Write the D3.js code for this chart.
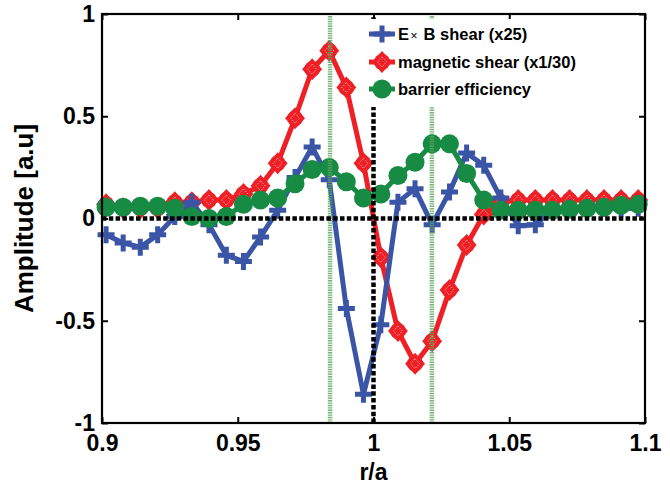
<!DOCTYPE html>
<html>
<head>
<meta charset="utf-8">
<script src="https://cdn.jsdelivr.net/npm/d3@7"></script>
<style>
  body { margin: 0; background: #fff; }
  svg { display: block; font-family: "Liberation Sans", Arial, sans-serif; }
</style>
</head>
<body>
<svg id="chart" width="670" height="487"></svg>
<script>
// Normalised radius of each sample point
const rOverA = [0.9015, 0.9078, 0.9141, 0.9205, 0.9268, 0.9331, 0.9394, 0.9458,
                0.9521, 0.9584, 0.9647, 0.9711, 0.9774, 0.9837, 0.9900, 0.9963,
                1.0027, 1.0090, 1.0153, 1.0216, 1.0280, 1.0343, 1.0406, 1.0469,
                1.0533, 1.0596, 1.0659, 1.0722, 1.0786, 1.0849, 1.0912, 1.0975];

// E x B shear, scaled by 25
const exbShear = [-0.08, -0.12, -0.14, -0.08, 0.01, 0.08, -0.03, -0.18,
                  -0.21, -0.09, 0.04, 0.20, 0.35, 0.19, -0.44, -0.86,
                  -0.52, 0.08, 0.145, -0.03, 0.13, 0.32, 0.26, 0.10,
                  -0.035, -0.03, 0.04, 0.05, 0.05, 0.05, 0.05, 0.05];

// Magnetic shear, scaled by 1/30
const magShear = [0.07, 0.05, 0.05, 0.05, 0.08, 0.08, 0.09, 0.09,
                  0.12, 0.16, 0.27, 0.49, 0.73, 0.82, 0.64, 0.27,
                  -0.19, -0.55, -0.71, -0.60, -0.35, -0.13, 0.02, 0.08,
                  0.09, 0.09, 0.09, 0.09, 0.09, 0.09, 0.09, 0.09];

// Transport barrier efficiency
const barrierEff = [0.055, 0.055, 0.06, 0.06, 0.05, 0.01, 0.0, 0.01,
                    0.07, 0.09, 0.10, 0.17, 0.24, 0.25, 0.18, 0.10,
                    0.12, 0.21, 0.275, 0.365, 0.365, 0.22, 0.09, 0.04,
                    0.04, 0.04, 0.04, 0.045, 0.05, 0.055, 0.065, 0.07];

const xTicks = [0.9, 0.95, 1, 1.05, 1.1];
const xTickLabels = ["0.9", "0.95", "1", "1.05", "1.1"];
const yTicks = [-1, -0.5, 0, 0.5, 1];
const yTickLabels = ["-1", "-0.5", "0", "0.5", "1"];

// Positions of the shear maxima (vertical guides) and the separatrix
const shearPeaks = [0.984, 1.0215];
const separatrix = 1.0;

const seriesNames = ["E\u00d7 B shear (x25)", "magnetic shear (x1/30)", "barrier efficiency"];

const BLUE = "#3b55a6", RED = "#ee2026", GREEN = "#178a43";

const svg = d3.select("#chart");
const x = d3.scaleLinear().domain([0.9, 1.1]).range([102, 645]);
const y = d3.scaleLinear().domain([-1, 1]).range([423, 14]);

const line = d3.line().x((d, i) => x(rOverA[i])).y(d => y(d));

// ---- series lines and markers (red under blue under green) ----
const plot = svg.append("g");

function drawLine(values, color) {
  plot.append("path").datum(values)
    .attr("d", line).attr("fill", "none")
    .attr("stroke", color).attr("stroke-width", 5)
    .attr("stroke-linejoin", "round");
}

function redMarker(g) {
  g.append("path").attr("d", "M0,-11L10,0L0,11L-10,0Z").attr("fill", RED);
  g.append("circle").attr("r", 8).attr("fill", RED);
  g.append("path").attr("d", "M0,-5L4.5,0L0,5L-4.5,0Z")
    .attr("fill", "none").attr("stroke", "#fff").attr("stroke-width", 0.9)
    .attr("stroke-dasharray", "1.2,1.6").attr("opacity", 0.75);
}
function blueMarker(g) {
  g.append("path").attr("d", "M-8.5,0H8.5M0,-8.5V8.5")
    .attr("stroke", BLUE).attr("stroke-width", 5).attr("fill", "none");
}
function greenMarker(g) {
  g.append("circle").attr("r", 9.5).attr("fill", GREEN);
}

function drawMarkers(values, maker) {
  plot.append("g").selectAll("g").data(values).join("g")
    .attr("transform", (d, i) => `translate(${x(rOverA[i])},${y(d)})`)
    .each(function () { maker(d3.select(this)); });
}

drawLine(magShear, RED);
drawMarkers(magShear, redMarker);
drawLine(exbShear, BLUE);
drawMarkers(exbShear, blueMarker);
drawLine(barrierEff, GREEN);
drawMarkers(barrierEff, greenMarker);

// ---- vertical guides at the shear maxima ----
svg.append("g").selectAll("line").data(shearPeaks).join("line")
  .attr("x1", d => x(d)).attr("x2", d => x(d))
  .attr("y1", y(-1)).attr("y2", y(1))
  .attr("stroke", "#5ea85e").attr("stroke-width", 4.5)
  .attr("stroke-dasharray", "1.4,1").attr("opacity", 0.85);

// ---- zero line and separatrix ----
svg.append("line")
  .attr("x1", x(0.9)).attr("x2", x(1.1)).attr("y1", y(0)).attr("y2", y(0))
  .attr("stroke", "#000").attr("stroke-width", 4.5).attr("stroke-dasharray", "4.5,2.3");
svg.append("line")
  .attr("x1", x(separatrix)).attr("x2", x(separatrix)).attr("y1", y(-1)).attr("y2", y(1))
  .attr("stroke", "#000").attr("stroke-width", 4.5).attr("stroke-dasharray", "4.5,2.3");

// ---- axes ----
const fmtX = d => xTickLabels[xTicks.indexOf(d)];
const fmtY = d => yTickLabels[yTicks.indexOf(d)];

function styleAxis(g) {
  g.select(".domain").remove();
  g.selectAll(".tick line").attr("stroke", "#000").attr("stroke-width", 2);
  g.selectAll(".tick text").attr("fill", "#000")
    .style("font-size", "23px").style("font-weight", "bold")
    .style("font-family", "'Liberation Sans', Arial, sans-serif");
}

svg.append("g").attr("transform", `translate(0,${y(-1)})`)
  .call(d3.axisBottom(x).tickValues(xTicks).tickFormat(fmtX)
        .tickSizeInner(-6).tickSizeOuter(0).tickPadding(12))
  .call(styleAxis);
svg.append("g").attr("transform", `translate(0,${y(1)})`)
  .call(d3.axisTop(x).tickValues(xTicks).tickFormat("")
        .tickSizeInner(-6).tickSizeOuter(0))
  .call(styleAxis);
svg.append("g").attr("transform", `translate(${x(0.9)},0)`)
  .call(d3.axisLeft(y).tickValues(yTicks).tickFormat(fmtY)
        .tickSizeInner(-6).tickSizeOuter(0).tickPadding(7))
  .call(styleAxis);
svg.append("g").attr("transform", `translate(${x(1.1)},0)`)
  .call(d3.axisRight(y).tickValues(yTicks).tickFormat("")
        .tickSizeInner(-6).tickSizeOuter(0))
  .call(styleAxis);

// ---- legend ----
const legend = svg.append("g");
legend.append("rect").attr("x", 364).attr("y", 19).attr("width", 200).attr("height", 88)
  .attr("fill", "#fff");
const legendRows = [
  { name: seriesNames[0], color: BLUE, maker: blueMarker, cy: 34 },
  { name: seriesNames[1], color: RED, maker: redMarker, cy: 62 },
  { name: seriesNames[2], color: GREEN, maker: greenMarker, cy: 89 }
];
legendRows.forEach(row => {
  legend.append("line").attr("x1", 369).attr("x2", 395)
    .attr("y1", row.cy).attr("y2", row.cy)
    .attr("stroke", row.color).attr("stroke-width", 5);
  row.maker(legend.append("g").attr("transform", `translate(382,${row.cy})`));
  const t = legend.append("text").attr("x", 398).attr("y", row.cy + 6)
    .style("font-size", "16.5px").style("font-weight", "bold").attr("fill", "#000");
  if (row.name.startsWith("E\u00d7")) {
    t.append("tspan").text("E");
    t.append("tspan").attr("dx", 1.5).text("\u00d7")
      .style("font-size", "12px").style("font-weight", "normal");
    t.append("tspan").attr("dx", 1.5).text(row.name.slice(2));
  } else {
    t.text(row.name);
  }
});

// ---- frame ----
svg.append("rect")
  .attr("x", x(0.9)).attr("y", y(1))
  .attr("width", x(1.1) - x(0.9)).attr("height", y(-1) - y(1))
  .attr("fill", "none").attr("stroke", "#000").attr("stroke-width", 2.2);

// ---- axis titles ----
svg.append("text").attr("x", (x(0.9) + x(1.1)) / 2).attr("y", 480)
  .attr("text-anchor", "middle")
  .style("font-size", "23px").style("font-weight", "bold").text("r/a");
svg.append("text")
  .attr("transform", `translate(33,${(y(-1) + y(1)) / 2}) rotate(-90)`)
  .attr("text-anchor", "middle")
  .style("font-size", "26px").style("font-weight", "bold").text("Amplitude [a.u]");
</script>
</body>
</html>
